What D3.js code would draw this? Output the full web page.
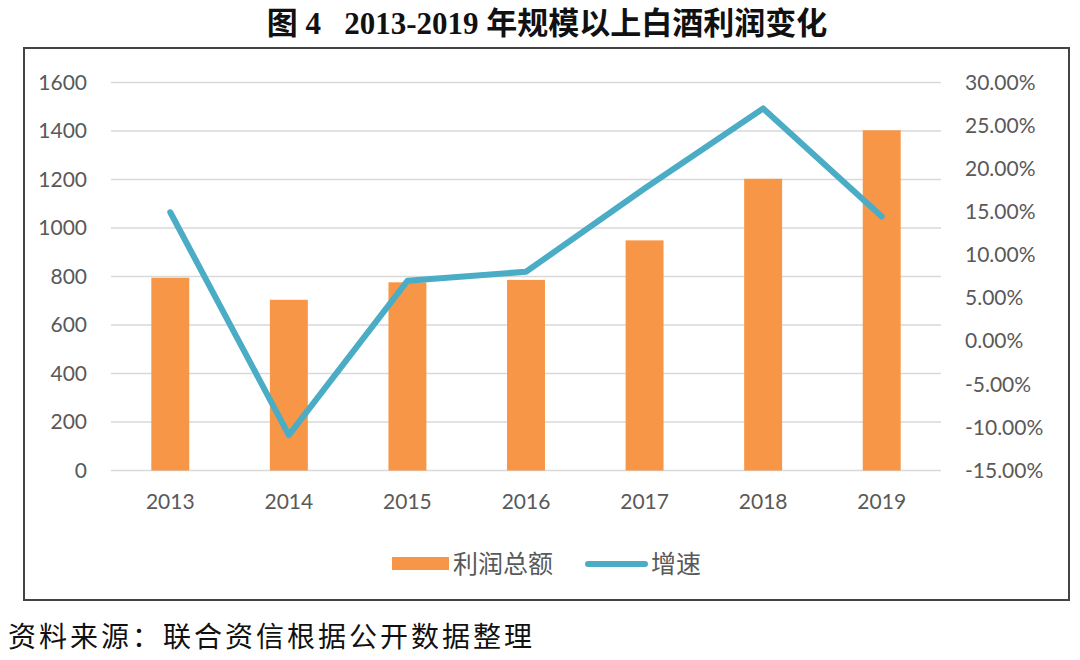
<!DOCTYPE html>
<html>
<head>
<meta charset="utf-8">
<script src="https://cdn.jsdelivr.net/npm/d3@7"></script>
<style>
    body { margin: 0; background: #fff; }
</style>
</head>
<body>
<script>
var years = ["2013", "2014", "2015", "2016", "2017", "2018", "2019"];
var profit = [795, 704, 776, 786, 949, 1203, 1403];
var growth = [14.95, -10.9, 7.0, 8.05, 17.7, 27.0, 14.45];
var leftTicks = [0, 200, 400, 600, 800, 1000, 1200, 1400, 1600];
var rightTicks = [-15, -10, -5, 0, 5, 10, 15, 20, 25, 30];
var seriesNames = ["利润总额", "增速"];

var orange = "#f79646";
var blue = "#4bacc6";
var tickFont = "Lato, 'Liberation Sans', sans-serif";

var width = 1080;
var height = 660;

let svg = d3.select("body")
    .append("svg")
    .attr("width", width)
    .attr("height", height);

// title
svg.append("text")
    .attr("x", 547)
    .attr("y", 34)
    .attr("text-anchor", "middle")
    .attr("font-family", "'Liberation Serif', 'Noto Sans CJK SC', serif")
    .attr("font-weight", "bold")
    .attr("font-size", "31px")
    .attr("fill", "#111")
    .style("white-space", "pre")
    .text("图 4   2013-2019 年规模以上白酒利润变化");

// frame
svg.append("rect")
    .attr("x", 24)
    .attr("y", 48)
    .attr("width", 1045)
    .attr("height", 552)
    .attr("fill", "none")
    .attr("stroke", "#444")
    .attr("stroke-width", 2);

let plotLeft = 111, plotRight = 941, plotTop = 82.5, plotBottom = 470.5;

let x = d3.scaleBand()
    .domain(years)
    .range([plotLeft, plotRight])
    .paddingInner(0.68)
    .paddingOuter(0.34);

let yLeft = d3.scaleLinear().domain([0, 1600]).range([plotBottom, plotTop]);
let yRight = d3.scaleLinear().domain([-15, 30]).range([plotBottom, plotTop]);

// gridlines
svg.append("g")
    .selectAll("line")
    .data(leftTicks)
    .enter()
    .append("line")
    .attr("x1", plotLeft)
    .attr("x2", plotRight)
    .attr("y1", d => yLeft(d))
    .attr("y2", d => yLeft(d))
    .attr("stroke", "#d9d9d9")
    .attr("stroke-width", 1.5);

// left axis
let axisL = svg.append("g")
    .attr("transform", "translate(" + (plotLeft - 24) + ",0)")
    .call(d3.axisLeft(yLeft).tickValues(leftTicks).tickSize(0).tickPadding(0)
        .tickFormat(d3.format("d")));
axisL.select(".domain").remove();
axisL.selectAll("text")
    .attr("font-family", tickFont)
    .attr("font-size", "21px")
    .attr("fill", "#595959");

// right axis
let axisR = svg.append("g")
    .attr("transform", "translate(" + (plotRight + 24) + ",0)")
    .call(d3.axisRight(yRight).tickValues(rightTicks).tickSize(0).tickPadding(0)
        .tickFormat(d => d.toFixed(2) + "%"));
axisR.select(".domain").remove();
axisR.selectAll("text")
    .attr("font-family", tickFont)
    .attr("font-size", "21px")
    .attr("fill", "#595959");

// x axis
let axisX = svg.append("g")
    .attr("transform", "translate(0," + plotBottom + ")")
    .call(d3.axisBottom(x).tickSize(0).tickPadding(24));
axisX.select(".domain").remove();
axisX.selectAll("text")
    .attr("font-family", tickFont)
    .attr("font-size", "21px")
    .attr("fill", "#595959");

// bars
svg.selectAll("rect.bar")
    .data(profit)
    .enter()
    .append("rect")
    .attr("class", "bar")
    .attr("x", (d, i) => x(years[i]))
    .attr("y", d => yLeft(d))
    .attr("width", x.bandwidth())
    .attr("height", d => plotBottom - yLeft(d))
    .attr("fill", orange);

// growth line
let line = d3.line()
    .x((d, i) => x(years[i]) + x.bandwidth() / 2)
    .y(d => yRight(d));

svg.append("path")
    .datum(growth)
    .attr("d", line)
    .attr("fill", "none")
    .attr("stroke", blue)
    .attr("stroke-width", 6)
    .attr("stroke-linejoin", "round")
    .attr("stroke-linecap", "round");

// legend
let legend = svg.append("g");
legend.append("rect")
    .attr("x", 392)
    .attr("y", 557)
    .attr("width", 57)
    .attr("height", 13)
    .attr("fill", orange);
legend.append("text")
    .attr("x", 453)
    .attr("y", 573)
    .attr("font-family", "'Noto Sans CJK SC', sans-serif")
    .attr("font-size", "25px")
    .attr("fill", "#595959")
    .text(seriesNames[0]);
legend.append("line")
    .attr("x1", 588)
    .attr("x2", 645)
    .attr("y1", 564)
    .attr("y2", 564)
    .attr("stroke", blue)
    .attr("stroke-width", 6)
    .attr("stroke-linecap", "round");
legend.append("text")
    .attr("x", 651)
    .attr("y", 573)
    .attr("font-family", "'Noto Sans CJK SC', sans-serif")
    .attr("font-size", "25px")
    .attr("fill", "#595959")
    .text(seriesNames[1]);

// source note
svg.append("text")
    .attr("x", 8)
    .attr("y", 647)
    .attr("font-family", "'Noto Sans CJK SC', sans-serif")
    .attr("font-size", "28px")
    .attr("letter-spacing", "3px")
    .attr("fill", "#111")
    .text("资料来源：联合资信根据公开数据整理");
</script>
</body>
</html>
